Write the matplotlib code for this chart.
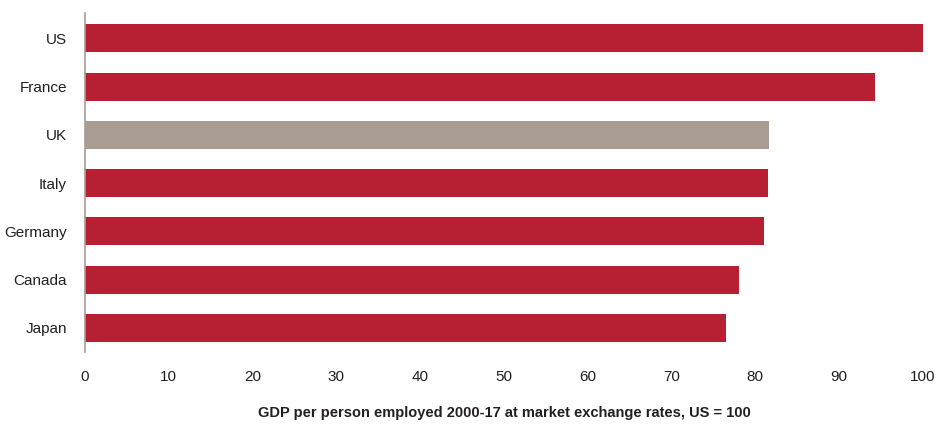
import matplotlib.pyplot as plt

countries = ['US', 'France', 'UK', 'Italy', 'Germany', 'Canada', 'Japan']
values = [100, 94.3, 81.6, 81.5, 81.0, 78.1, 76.5]
highlight = 'UK'

red = '#b71f33'
grey = '#a89c93'
txt = '#231f20'

plt.rcParams['font.family'] = ['Liberation Sans', 'DejaVu Sans']

fig = plt.figure(figsize=(9.37, 4.25), dpi=100)
ax = fig.add_axes([0.0907, 0.172, 0.8943, 0.797])

colors = [grey if c == highlight else red for c in countries]
ax.barh(range(len(countries)), values, height=0.58, color=colors)

ax.set_yticks(range(len(countries)))
ax.set_yticklabels(countries)
ax.set_ylim(len(countries) - 0.5, -0.52)
ax.set_xlim(0, 100)
ax.set_xticks(range(0, 101, 10))

for s in ['top', 'right', 'bottom']:
    ax.spines[s].set_visible(False)
ax.spines['left'].set_color(grey)
ax.spines['left'].set_linewidth(1.2)

ax.tick_params(axis='both', length=0, labelsize=11, colors=txt)
ax.tick_params(axis='y', pad=13)
ax.tick_params(axis='x', pad=13)

ax.set_xlabel('GDP per person employed 2000-17 at market exchange rates, US = 100',
              fontsize=10.5, fontweight='bold', color=txt, labelpad=16)

fig.savefig('out.png', dpi=100)
